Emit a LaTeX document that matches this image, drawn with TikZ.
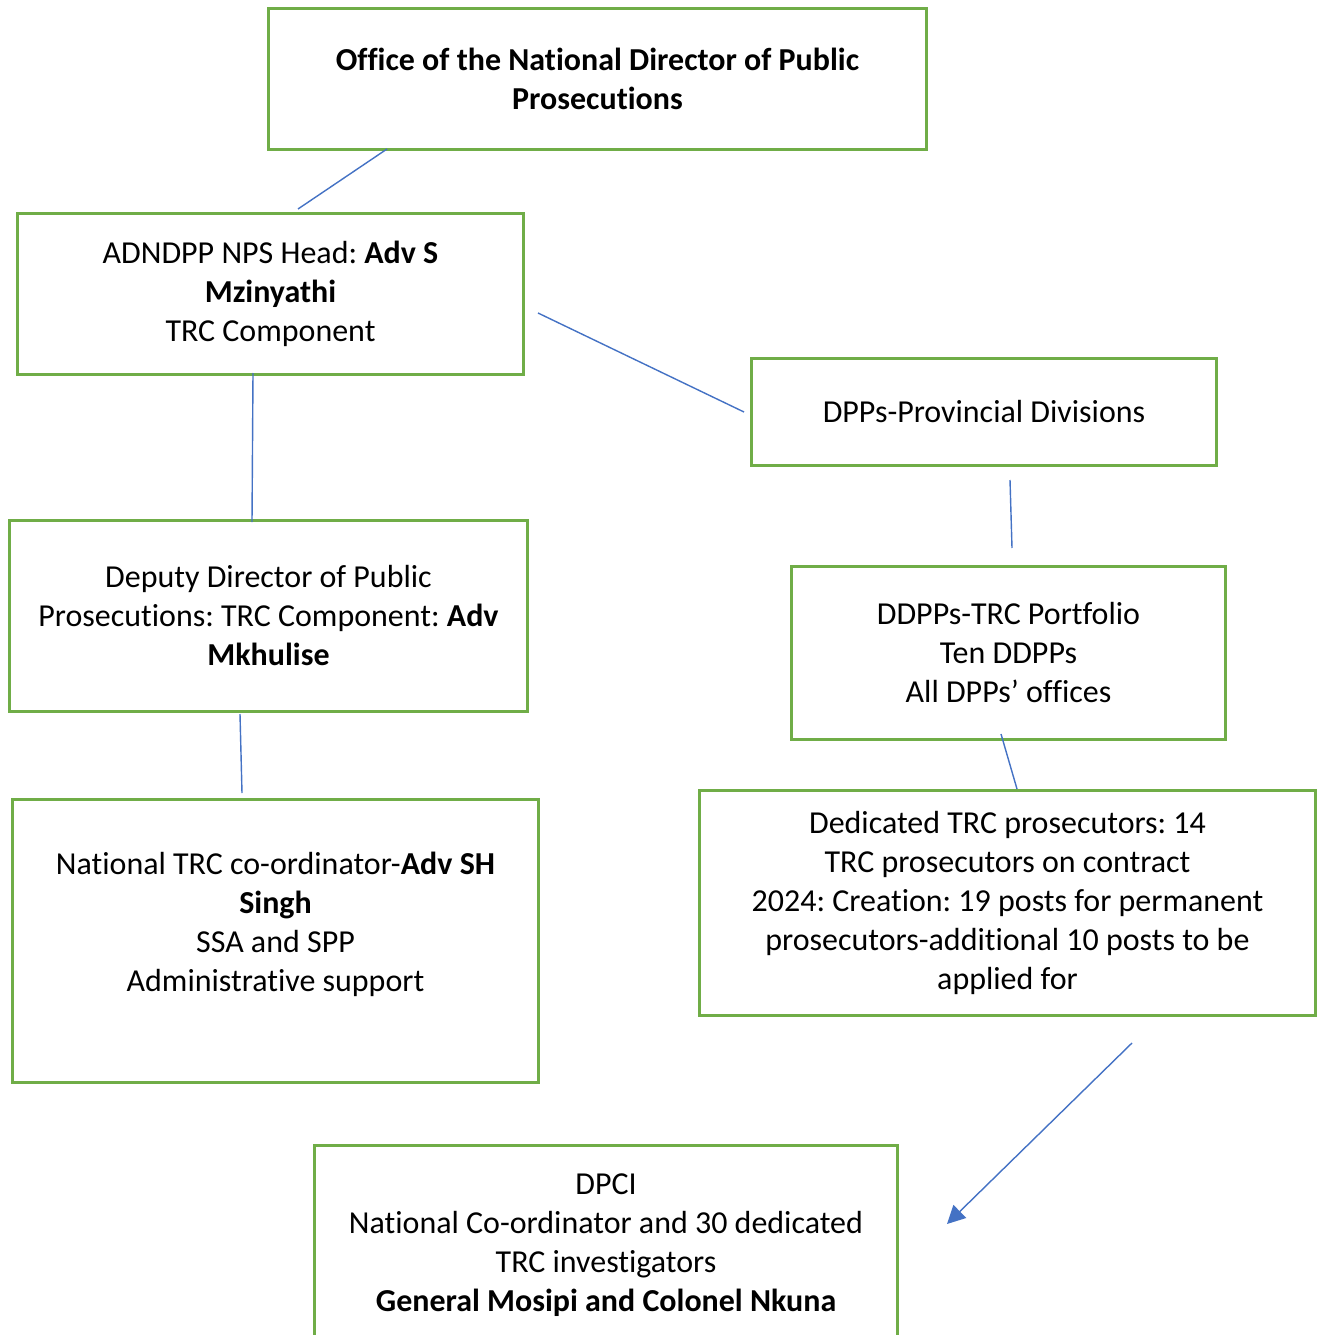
\documentclass[tikz,border=0pt]{standalone}
\usepackage{fontspec}
\setmainfont[Ligatures=NoCommon]{Carlito}
\usetikzlibrary{arrows.meta,positioning}
\definecolor{boxgreen}{HTML}{70AD47}
\definecolor{lineblue}{HTML}{4472C4}
\frenchspacing

\begin{document}
\begin{tikzpicture}[
  x=0.02cm, y=-0.02cm,
  every node/.style={font=\fontsize{18.2}{22.2}\selectfont},
  orgbox/.style={rectangle, draw=boxgreen, line width=1.7pt, align=center, inner sep=0pt},
  link/.style={draw=lineblue, line width=0.8pt},
  linkarrow/.style={link, -{Triangle[length=3.6mm,width=3.6mm]}}
]
\useasboundingbox (0,0) rectangle (1325,1335);

\node[orgbox, minimum width=13.18cm, minimum height=2.82cm] (ndpp) at (597.5,79)
  {\textbf{Office of the National Director of Public}\\ \textbf{Prosecutions}};
\node[orgbox, minimum width=10.14cm, minimum height=3.22cm] (head) at (270.5,294)
  {ADNDPP NPS Head: \textbf{Adv S}\\ \textbf{Mzinyathi}\\ TRC Component};
\node[orgbox, minimum width=9.32cm, minimum height=2.14cm] (dpps) at (984,412)
  {DPPs-Provincial Divisions};
\node[orgbox, minimum width=10.38cm, minimum height=3.84cm] (deputy) at (268.5,616)
  {Deputy Director of Public\\ Prosecutions: TRC Component: \textbf{Adv}\\ \textbf{Mkhulise}};
\node[orgbox, minimum width=8.7cm, minimum height=3.46cm] (ddpps) at (1008.5,653)
  {DDPPs-TRC Portfolio\\ Ten DDPPs\\ All DPPs’ offices};
\node[orgbox, minimum width=10.54cm, minimum height=5.68cm] (coord) at (275.5,941)
  {National TRC co-ordinator-\textbf{Adv SH}\\ \textbf{Singh}\\ SSA and SPP\\ Administrative support\\ \mbox{}};
\node[orgbox, minimum width=12.34cm, minimum height=4.52cm] (prosec) at (1007.5,903)
  {Dedicated TRC prosecutors: 14\\ TRC prosecutors on contract\\ 2024: Creation: 19 posts for permanent\\ prosecutors-additional 10 posts to be\\ applied for};
\node[orgbox, minimum width=11.68cm, minimum height=4cm] (dpci) at (606,1245)
  {DPCI\\ National Co-ordinator and 30 dedicated\\ TRC investigators\\ \textbf{General Mosipi and Colonel Nkuna}};

% loose connector ends
\coordinate (ndppA) at (387,149);
\coordinate (headA) at (298,209);
\coordinate (headB) at (538,313);
\coordinate (dppsA) at (744,412);
\coordinate (headC) at (253,373);
\coordinate (deputyA) at (252,522);
\coordinate (dppsB) at (1010,480);
\coordinate (ddppsA) at (1012,548);
\coordinate (deputyB) at (240,714);
\coordinate (coordA) at (242,793);
\coordinate (ddppsB) at (1001,734);
\coordinate (prosecA) at (1017,789);
\coordinate (prosecB) at (1132,1043);
\coordinate (dpciA) at (947,1224);

\draw[link] (ndppA) -- (headA);
\draw[link] (headB) -- (dppsA);
\draw[link] (headC) -- (deputyA);
\draw[link] (dppsB) -- (ddppsA);
\draw[link] (deputyB) -- (coordA);
\draw[link] (ddppsB) -- (prosecA);
\draw[linkarrow] (prosecB) -- (dpciA);
\end{tikzpicture}
\end{document}
